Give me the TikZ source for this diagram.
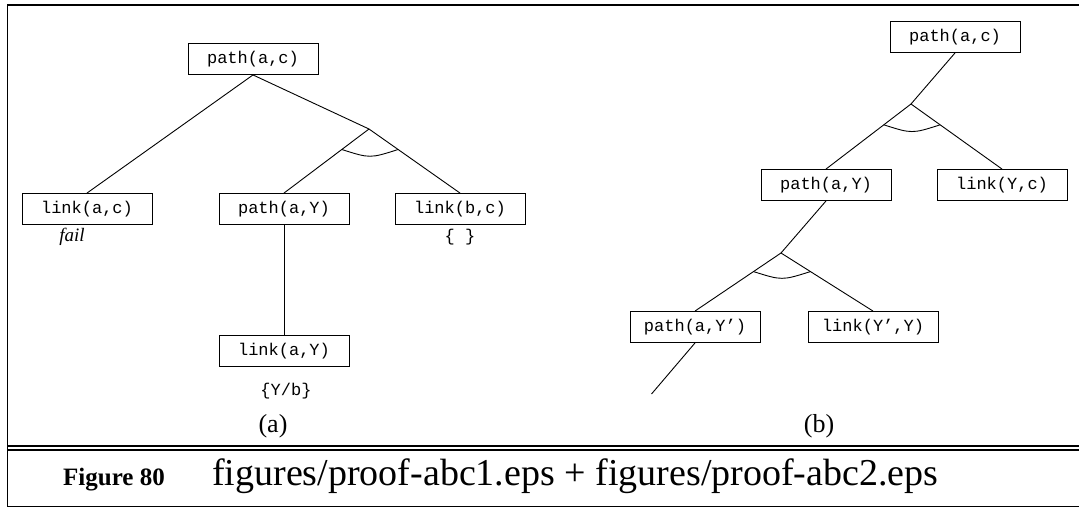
\documentclass[tikz,border=0pt]{standalone}
\usepackage{fontspec}
\setmainfont{Liberation Serif}
\setmonofont{Liberation Mono}
\usetikzlibrary{calc}

\begin{document}
\begin{tikzpicture}[
  x=1pt,y=-1pt,
  goal/.style={draw, line width=0.9pt, minimum width=130pt, minimum height=31pt, inner sep=0pt, font=\fontsize{17}{20}\selectfont\ttfamily},
  edge/.style={line width=0.9pt},
  frame/.style={line width=1.8pt},
  subst/.style={inner sep=0pt, font=\fontsize{17}{20}\selectfont\ttfamily},
  tag/.style={inner sep=0pt, font=\fontsize{26}{30}\selectfont}
]
\useasboundingbox (0,0) rectangle (1079,508);
\clip (0,0) rectangle (1079,508);

\draw[frame] (1090,5) -- (7.5,5) -- (7.5,506.5) -- (1090,506.5);
\draw[frame] (7.5,446) -- (1090,446);
\draw[frame] (7.5,450.3) -- (1090,450.3);

% (a)
\node[goal] (pac) at (253,59) {path(a,c)};
\node[goal] (lac) at (87,209) {link(a,c)};
\node[goal] (paY) at (284,209) {path(a,Y)};
\node[goal] (lbc) at (460,209) {link(b,c)};
\node[goal] (laY) at (284,351) {link(a,Y)};
\coordinate (and1) at (369,129);
\node[inner sep=0pt, font=\fontsize{19}{22}\selectfont\itshape] (fail) at (72,237) {fail};
\node[subst] (sbc) at (460,237) {\{ \}};
\node[subst] (saY) at (286,391) {\{Y/b\}};
\node[tag] (ta) at (273,426) {(a)};

\draw[edge] (pac.south) -- (lac.north);
\draw[edge] (pac.south) -- (and1);
\draw[edge] (and1) -- (paY.north);
\draw[edge] (and1) -- (lbc.north);
\draw[edge] (paY.south) -- (laY.north);
\coordinate (a1l) at ($(and1)!0.32!(paY.north)$);
\coordinate (a1r) at ($(and1)!0.32!(lbc.north)$);
\draw[edge] (a1l) .. controls ($(a1l)!0.5!(a1r)+(0,9)$) .. (a1r);

% (b)
\node[goal] (pac2) at (955,37) {path(a,c)};
\coordinate (and2) at (911,104);
\node[goal] (paY2) at (826,185) {path(a,Y)};
\node[goal] (lYc) at (1002,185) {link(Y,c)};
\coordinate (and3) at (781,253);
\node[goal] (paYp) at (695,327) {path(a,Y’)};
\node[goal] (lYpY) at (873,327) {link(Y’,Y)};
\coordinate (more) at (651.5,394);
\node[tag] (tb) at (819,426) {(b)};

\draw[edge] (pac2.south) -- (and2);
\draw[edge] (and2) -- (paY2.north);
\draw[edge] (and2) -- (lYc.north);
\draw[edge] (paY2.south) -- (and3);
\draw[edge] (and3) -- (paYp.north);
\draw[edge] (and3) -- (lYpY.north);
\draw[edge] (paYp.south) -- (more);
\coordinate (a2l) at ($(and2)!0.32!(paY2.north)$);
\coordinate (a2r) at ($(and2)!0.32!(lYc.north)$);
\draw[edge] (a2l) .. controls ($(a2l)!0.5!(a2r)+(0,9)$) .. (a2r);
\coordinate (a3l) at ($(and3)!0.32!(paYp.north)$);
\coordinate (a3r) at ($(and3)!0.32!(lYpY.north)$);
\draw[edge] (a3l) .. controls ($(a3l)!0.5!(a3r)+(0,9)$) .. (a3r);

% caption
\node[inner sep=0pt, anchor=base west, font=\fontsize{25}{30}\selectfont\bfseries] (fig) at (63,485) {Figure 80};
\node[inner sep=0pt, anchor=base west, font=\fontsize{38}{44}\selectfont] (cap) at (212,485) {figures/proof-abc1.eps + figures/proof-abc2.eps};
\end{tikzpicture}
\end{document}
